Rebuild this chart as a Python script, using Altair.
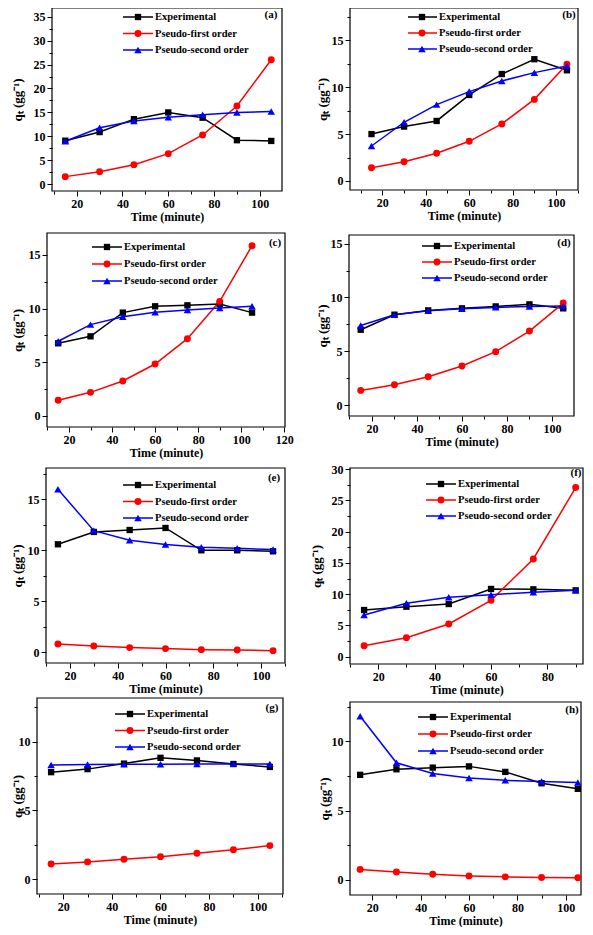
import altair as alt
import pandas as pd

# ---------------- data ----------------
SERIES = ["Experimental", "Pseudo-first order", "Pseudo-second order"]
COLORS = ["#000000", "#ff0000", "#0000ff"]
SHAPES = ["square", "circle", "triangle-up"]
PANEL_LABELS = ["(a)", "(b)", "(c)", "(d)", "(e)", "(f)", "(g)", "(h)"]

TIME = [15, 30, 45, 60, 75, 90, 105]
TIME_F = [15, 30, 45, 60, 75, 90]

A_EXP = [9.1, 10.9, 13.6, 15.0, 13.9, 9.2, 9.05]
A_PFO = [1.6, 2.6, 4.1, 6.4, 10.3, 16.35, 26.0]
A_PSO = [9.0, 11.8, 13.2, 14.0, 14.5, 15.0, 15.2]

B_EXP = [5.0, 5.8, 6.4, 9.17, 11.4, 12.98, 11.8]
B_PFO = [1.42, 2.06, 2.95, 4.23, 6.08, 8.7, 12.44]
B_PSO = [3.73, 6.26, 8.14, 9.53, 10.66, 11.55, 12.26]

C_EXP = [6.77, 7.42, 9.63, 10.22, 10.31, 10.43, 9.63]
C_PFO = [1.46, 2.2, 3.26, 4.84, 7.2, 10.68, 15.87]
C_PSO = [6.96, 8.51, 9.25, 9.66, 9.88, 10.06, 10.22]

D_EXP = [7.0, 8.4, 8.8, 8.99, 9.17, 9.36, 8.99]
D_PFO = [1.36, 1.89, 2.63, 3.63, 4.96, 6.88, 9.48]
D_PSO = [7.4, 8.4, 8.77, 8.96, 9.08, 9.17, 9.2]

E_EXP = [10.59, 11.8, 11.99, 12.19, 10.0, 10.0, 9.9]
E_PFO = [0.82, 0.62, 0.46, 0.36, 0.26, 0.23, 0.16]
E_PSO = [15.98, 11.93, 10.98, 10.56, 10.29, 10.2, 10.07]

F_EXP = [7.47, 8.0, 8.43, 10.84, 10.78, 10.62]
F_PFO = [1.76, 3.04, 5.23, 9.02, 15.64, 27.07]
F_PSO = [6.67, 8.54, 9.5, 9.93, 10.3, 10.62]

G_EXP = [7.78, 8.0, 8.4, 8.82, 8.63, 8.37, 8.16]
G_PFO = [1.11, 1.27, 1.46, 1.65, 1.89, 2.15, 2.45]
G_PSO = [8.3, 8.33, 8.35, 8.36, 8.37, 8.38, 8.38]

H_EXP = [7.58, 7.98, 8.1, 8.19, 7.79, 6.97, 6.57]
H_PFO = [0.75, 0.56, 0.4, 0.28, 0.21, 0.16, 0.14]
H_PSO = [11.81, 8.45, 7.68, 7.35, 7.18, 7.09, 7.02]

# ---------------- layout / style ----------------
FONT = "Liberation Serif"
VIEW_W, VIEW_H = 577, 919   # whole figure area (page margin 8px)
M = 8

# frame L,T,R,B in page pixels; domains; tick steps; y-title gap;
# legend (line x0, line x1, marker x, text x, first row y, last row y) relative to frame; label (x,y) relative
LAYOUT = [
    dict(L=52, T=8, R=282, B=191, xd=(9.2, 109.7), yd=(-1.4, 36.8), xs=20, ys=5, gap=28,
         leg=(71, 101, 86, 103, 9, 42), lab=(219, 7)),
    dict(L=350, T=8, R=578, B=190, xd=(5.1, 110.1), yd=(-0.96, 18.44), xs=20, ys=5, gap=21,
         leg=(58, 87, 72, 89, 9, 41), lab=(219, 7)),
    dict(L=47, T=233, R=285, B=427, xd=(9.8, 120.3), yd=(-1.03, 17.05), xs=20, ys=5, gap=23,
         leg=(45, 75, 60, 77, 14, 48), lab=(228, 10)),
    dict(L=349, T=235, R=574, B=416, xd=(9.8, 109.8), yd=(-1.02, 15.81), xs=20, ys=5, gap=20,
         leg=(73, 103, 88, 105, 11, 43), lab=(215, 8)),
    dict(L=46, T=468, R=285, B=663, xd=(10, 110), yd=(-1.05, 18.07), xs=20, ys=5, gap=22,
         leg=(77, 107, 92, 109, 17, 50), lab=(228, 10)),
    dict(L=350, T=468, R=583, B=664, xd=(10, 92.6), yd=(-1.17, 30.2), xs=20, ys=5, gap=27,
         leg=(76, 106, 91, 108, 16, 48), lab=(226, 5)),
    dict(L=37, T=698, R=283, B=894, xd=(9.2, 110.4), yd=(-1.06, 13.16), xs=20, ys=5, gap=13,
         leg=(78, 108, 93, 110, 16, 49), lab=(235, 10)),
    dict(L=350, T=702, R=581, B=895, xd=(10.8, 106.3), yd=(-1.1, 12.84), xs=20, ys=5, gap=19,
         leg=(68, 98, 83, 100, 15, 49), lab=(222, 8)),
]

PANEL_DATA = [
    (TIME, A_EXP, A_PFO, A_PSO), (TIME, B_EXP, B_PFO, B_PSO),
    (TIME, C_EXP, C_PFO, C_PSO), (TIME, D_EXP, D_PFO, D_PSO),
    (TIME, E_EXP, E_PFO, E_PSO), (TIME_F, F_EXP, F_PFO, F_PSO),
    (TIME, G_EXP, G_PFO, G_PSO), (TIME, H_EXP, H_PFO, H_PSO),
]

color_scale = alt.Scale(domain=SERIES, range=COLORS)
shape_scale = alt.Scale(domain=SERIES, range=SHAPES)
size_scale = alt.Scale(domain=SERIES, range=[40, 56, 56])


def panel_layers(idx):
    label = PANEL_LABELS[idx]
    t, exp, pfo, pso = PANEL_DATA[idx]
    lay = LAYOUT[idx]
    L, T, R, B = lay["L"] - M, lay["T"] - M, lay["R"] - M, lay["B"] - M

    df = pd.DataFrame({
        "time": list(t) * 3,
        "q": list(exp) + list(pfo) + list(pso),
        "series": [s for s in SERIES for _ in t],
    })
    lab_df = pd.DataFrame({"label": [label]})
    leg_df = pd.DataFrame({"series": SERIES})

    xd, yd, xs, ys = lay["xd"], lay["yd"], lay["xs"], lay["ys"]
    x_vals = [v for v in range(0, 200, xs // 2) if xd[0] <= v <= xd[1]]
    y_vals = [k * ys / 2 for k in range(0, 100) if yd[0] <= k * ys / 2 <= yd[1]]

    xaxis = alt.Axis(
        orient="bottom", offset=B - VIEW_H,
        values=x_vals, title="Time (minute)",
        labelExpr=f"datum.value % {xs} === 0 ? datum.label : ''",
        tickSize={"condition": {"test": f"datum.value % {xs} === 0", "value": 5}, "value": 3},
        minExtent=19, maxExtent=19, titlePadding=1, labelPadding=2,
        labelFlush=False, labelOverlap=False,
    )
    yaxis = alt.Axis(
        orient="left", offset=-L,
        values=y_vals, title="qₜ (gg⁻¹)", titleFontSize=13,
        labelExpr=f"datum.value % {ys} === 0 ? datum.label : ''",
        tickSize={"condition": {"test": f"datum.value % {ys} === 0", "value": 5}, "value": 3},
        minExtent=lay["gap"] - 1, maxExtent=lay["gap"] - 1, titlePadding=1, labelPadding=2,
        labelOverlap=False,
    )
    xsc = alt.Scale(domain=list(xd), range=[L, R], nice=False, zero=False)
    ysc = alt.Scale(domain=list(yd), range=[B, T], nice=False, zero=False)

    frame = alt.Chart(lab_df).mark_rect(filled=False, stroke="black", strokeWidth=1.2).encode(
        x=alt.XDatum(xd[0], type="quantitative", scale=xsc, axis=None),
        x2=alt.X2Datum(xd[1]),
        y=alt.YDatum(yd[0], type="quantitative", scale=ysc, axis=None),
        y2=alt.Y2Datum(yd[1]),
    )
    lines = alt.Chart(df).mark_line(strokeWidth=1.5).encode(
        x=alt.X("time:Q", scale=xsc, axis=xaxis),
        y=alt.Y("q:Q", scale=ysc, axis=yaxis),
        color=alt.Color("series:N", scale=color_scale, legend=None),
        order="time:Q",
    )
    points = alt.Chart(df).mark_point(filled=True, opacity=1).encode(
        x=alt.X("time:Q", scale=xsc, axis=None),
        y=alt.Y("q:Q", scale=ysc, axis=None),
        color=alt.Color("series:N", scale=color_scale, legend=None),
        shape=alt.Shape("series:N", scale=shape_scale, legend=None),
        size=alt.Size("series:N", scale=size_scale, legend=None),
    )
    lx0, lx1, lxm, lxt, ly0, ly1 = lay["leg"]
    ly = alt.Y("series:N", scale=alt.Scale(type="point", domain=SERIES, range=[T + ly0, T + ly1], padding=0),
               axis=None)
    leg_rule = alt.Chart(leg_df).mark_rule(strokeWidth=1.5).encode(
        x=alt.value(L + lx0), x2=alt.value(L + lx1), y=ly,
        color=alt.Color("series:N", scale=color_scale, legend=None),
    )
    leg_pt = alt.Chart(leg_df).mark_point(filled=True, opacity=1).encode(
        x=alt.value(L + lxm), y=ly,
        color=alt.Color("series:N", scale=color_scale, legend=None),
        shape=alt.Shape("series:N", scale=shape_scale, legend=None),
        size=alt.Size("series:N", scale=size_scale, legend=None),
    )
    leg_txt = alt.Chart(leg_df).mark_text(
        align="left", baseline="middle", font=FONT, fontSize=10.5, fontWeight="bold", color="black"
    ).encode(x=alt.value(L + lxt), y=ly, text="series:N")
    lab = alt.Chart(lab_df).mark_text(
        align="center", baseline="middle", font=FONT, fontSize=11, fontWeight="bold", color="black"
    ).encode(x=alt.value(L + lay["lab"][0]), y=alt.value(T + lay["lab"][1]), text="label:N")

    return [frame, lines, points, leg_rule, leg_pt, leg_txt, lab]


all_layers = []
for i in range(8):
    all_layers.extend(panel_layers(i))

chart = alt.layer(*all_layers).resolve_scale(
    x="independent", y="independent"
).properties(
    width=VIEW_W, height=VIEW_H, padding=0, background="white",
    autosize=alt.AutoSizeParams(type="none"),
).configure_view(
    stroke=None
).configure_axis(
    grid=False, domain=False, tickColor="black", tickWidth=1,
    labelFont=FONT, labelFontSize=12, labelFontWeight="bold", labelColor="black",
    titleFont=FONT, titleFontSize=12, titleFontWeight="bold", titleColor="black",
)

chart.save("out.html", embed_options={"renderer": "svg", "actions": False})
